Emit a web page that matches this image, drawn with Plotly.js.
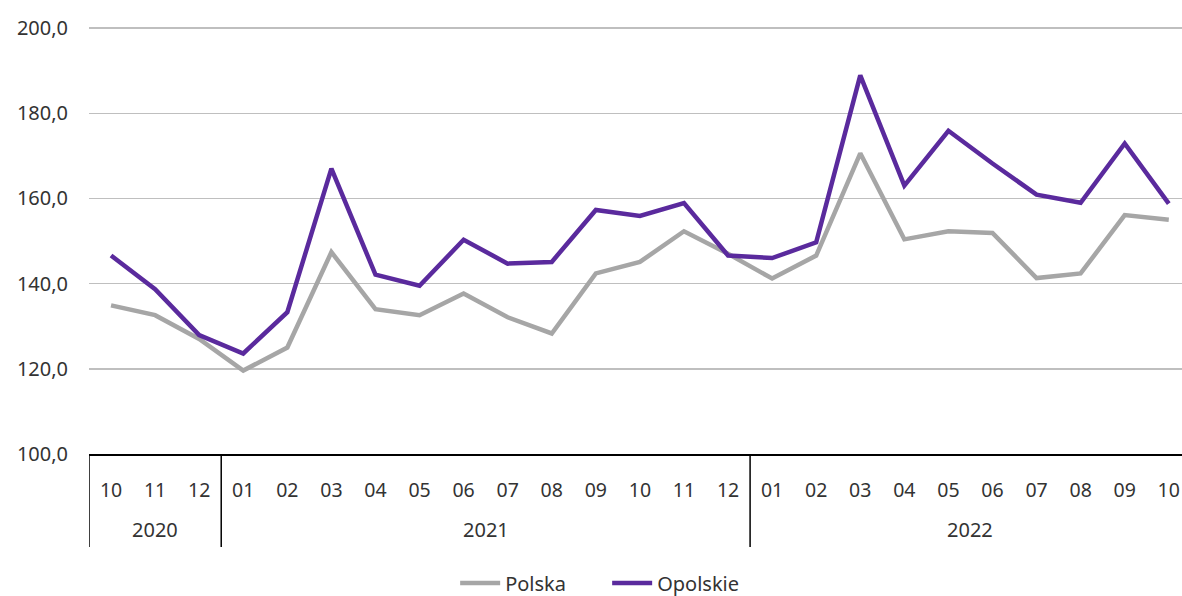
<!DOCTYPE html>
<html>
<head>
<meta charset="utf-8">
<script src="https://cdn.plot.ly/plotly-3.0.1.min.js"></script>
<style>html,body{margin:0;padding:0;background:#fff;}#chart{width:1182px;height:596px;}</style>
</head>
<body>
<div id="chart"></div>
<script>
const years = ["2020","2020","2020","2021","2021","2021","2021","2021","2021","2021","2021","2021","2021","2021","2021","2022","2022","2022","2022","2022","2022","2022","2022","2022","2022"];
const months = ["10","11","12","01","02","03","04","05","06","07","08","09","10","11","12","01","02","03","04","05","06","07","08","09","10"];
const polska = [134.9,132.6,127.0,119.6,125.0,147.4,134.0,132.6,137.7,132.1,128.3,142.4,145.1,152.3,147.0,141.2,146.6,170.6,150.4,152.3,151.9,141.3,142.4,156.1,155.0];
const opolskie = [146.6,138.7,127.9,123.6,133.3,167.0,142.1,139.5,150.3,144.7,145.1,157.3,155.9,158.9,146.6,146.0,149.7,188.9,163.0,175.9,168.2,160.9,159.0,172.9,158.8];

const idx = months.map((_, i) => i);
const textColor = '#333333';
const fontFam = '"Noto Sans", "DejaVu Sans", sans-serif';

// year groups
const groups = [];
years.forEach((y, i) => {
  if (!groups.length || groups[groups.length - 1].year !== y) groups.push({year: y, start: i, end: i});
  else groups[groups.length - 1].end = i;
});

const divBottom = -0.216;
const shapes = groups.map(g => ({
  type: 'line', xref: 'x', yref: 'paper',
  x0: g.start - 0.5, x1: g.start - 0.5, y0: 0, y1: divBottom,
  line: {color: '#000', width: 1.5}
}));
const annotations = groups.map(g => ({
  xref: 'x', yref: 'paper', x: (g.start + g.end) / 2, y: -0.176,
  text: g.year, showarrow: false, xanchor: 'center', yanchor: 'middle',
  font: {family: fontFam, size: 20, color: textColor}
}));

const traces = [
  {x: idx, y: polska, name: 'Polska', type: 'scatter', mode: 'lines',
   line: {color: '#A6A6A6', width: 4.5}},
  {x: idx, y: opolskie, name: 'Opolskie', type: 'scatter', mode: 'lines',
   line: {color: '#5A2A9D', width: 4.5}}
];

const layout = {
  width: 1182, height: 596,
  margin: {l: 89, r: 0, t: 23, b: 142, pad: 0, autoexpand: false},
  paper_bgcolor: '#fff', plot_bgcolor: '#fff',
  separators: ', ',
  font: {family: fontFam, size: 20, color: textColor},
  showlegend: true,
  legend: {orientation: 'h', x: 0.335, xanchor: 'left', yref: 'container', y: 0.022, yanchor: 'middle',
           font: {family: fontFam, size: 20, color: textColor}, itemwidth: 40, entrywidth: 97,
           traceorder: 'normal'},
  xaxis: {
    range: [-0.5, 24.3], tickmode: 'array', tickvals: idx, ticktext: months,
    showgrid: false, zeroline: false, showline: true, linecolor: '#000', linewidth: 1.5,
    ticks: '', ticklabelstandoff: 18, ticklabeloverflow: 'allow',
    tickfont: {family: fontFam, size: 19.5, color: textColor},
    fixedrange: true, automargin: false
  },
  yaxis: {
    range: [100, 201.2], tickmode: 'array', tickvals: [100, 120, 140, 160, 180, 200], tickformat: '.1f',
    showgrid: true, gridcolor: '#BFBFBF', gridwidth: 1.5, zeroline: false, showline: false,
    ticks: '', ticklabelstandoff: 20, tickfont: {family: fontFam, size: 20, color: textColor},
    fixedrange: true, automargin: false
  },
  shapes: shapes,
  annotations: annotations
};

Plotly.newPlot('chart', traces, layout, {staticPlot: true, displayModeBar: false});
</script>
</body>
</html>
